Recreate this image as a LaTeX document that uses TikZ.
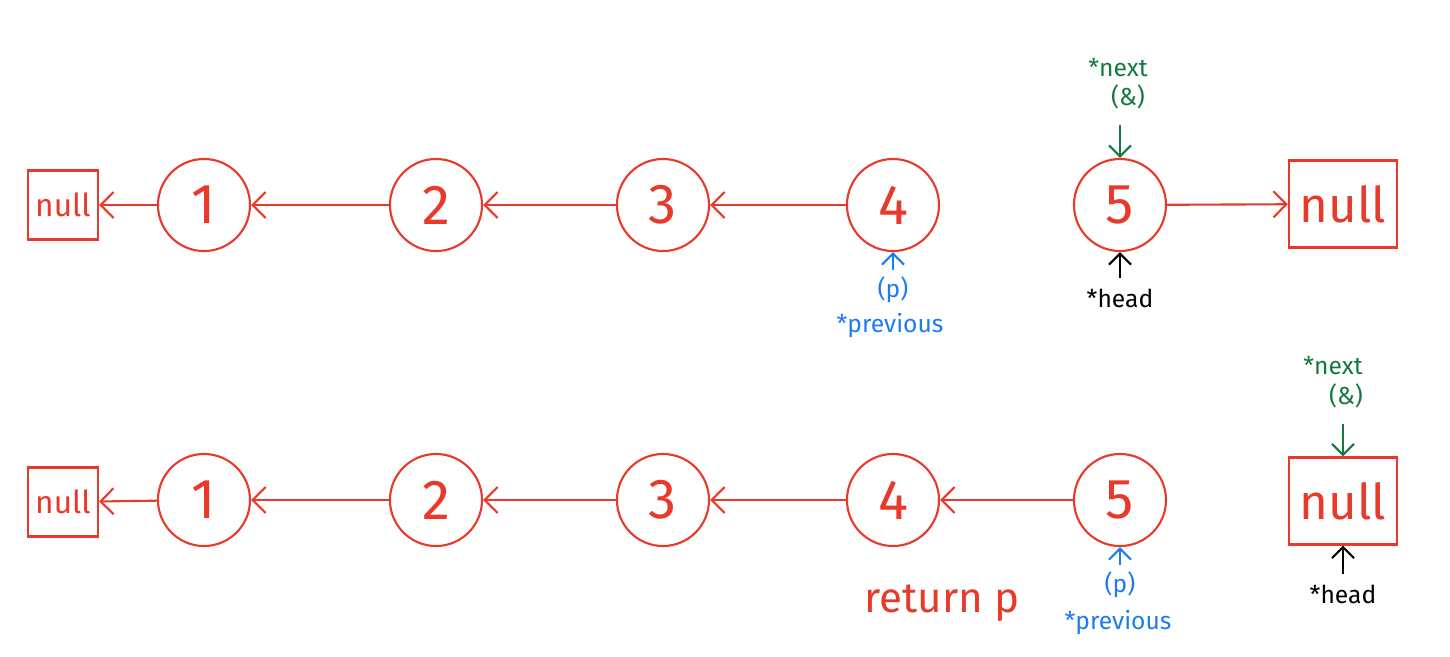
\documentclass[tikz,border=0pt]{standalone}
\usepackage{fontspec}
\setmainfont{Fira Sans}
\usetikzlibrary{arrows.meta}
\definecolor{listred}{HTML}{E8392A}
\definecolor{nextgreen}{HTML}{137A3F}
\definecolor{prevblue}{HTML}{1C7BF2}
\begin{document}
\begin{tikzpicture}[x=0.01cm,y=-0.01cm,
    elem/.style={draw=listred,circle,line width=0.6pt,minimum size=0.92cm,inner sep=0pt,
      text=listred,font=\fontsize{16}{16}\selectfont},
    nullbox/.style={draw=listred,line width=0.6pt,minimum width=0.7cm,minimum height=0.69cm,
      inner sep=0pt,text=listred,font=\fontsize{9}{9}\selectfont},
    bignull/.style={draw=listred,line width=0.6pt,minimum width=1.08cm,minimum height=0.87cm,
      inner sep=0pt,text=listred,font=\fontsize{14}{14}\selectfont},
    link/.style={draw=listred,line width=0.6pt,-{Straight Barb[length=1.3mm,width=2.6mm]}},
    ptr/.style={line width=0.6pt,-{Straight Barb[length=1.1mm,width=2.2mm]}},
    lbl/.style={inner sep=0pt,font=\fontsize{7}{7}\selectfont}]
  \useasboundingbox (0,0) rectangle (1450,657);
  \def \Elems{
    1/204,
    2/436,
    3/663,
    4/893,
    5/1120}
  % two rows of list elements
  \foreach \id / \x in \Elems{
    \node[elem] (a\id) at (\x, 205) {\id};
    \node[elem] (b\id) at (\x, 500) {\id};
  }
  \node[nullbox] (anull) at (63, 205) {null};
  \node[nullbox] (bnull) at (63, 502) {null};
  \node[bignull] (aend) at (1343, 204) {null};
  \node[bignull] (bend) at (1343, 501) {null};
  % reversed links
  \foreach \x / \y in {2/1, 3/2, 4/3}{
    \path[link] (a\x) -- (a\y);
    \path[link] (b\x) -- (b\y);
  }
  \path[link] (b5) -- (b4);
  \path[link] (a1) -- (anull);
  \path[link] (b1) -- (bnull);
  \path[link] (a5) -- (aend);
  % pointers, first row
  \node[lbl,text=nextgreen] (anext) at (1118, 68) {*next};
  \node[lbl,text=nextgreen] (aamp) at (1128, 97) {(\&)};
  \coordinate (anexttail) at (1120, 125);
  \draw[ptr,nextgreen] (anexttail) -- (a5.north);
  \node[lbl,text=prevblue] (ap) at (893, 290) {(p)};
  \node[lbl,text=prevblue] (aprev) at (890, 326) {*previous};
  \draw[ptr,prevblue] (ap.north) ++(0,-6) -- (a4.south);
  \node[lbl] (ahead) at (1120, 298) {*head};
  \draw[ptr] (ahead.north) ++(0,-10) -- (a5.south);
  % pointers, second row
  \node[lbl,text=nextgreen] (bnext) at (1333, 366) {*next};
  \node[lbl,text=nextgreen] (bamp) at (1346, 396) {(\&)};
  \coordinate (bnexttail) at (1343, 424);
  \draw[ptr,nextgreen] (bnexttail) -- (bend.north);
  \node[lbl] (bhead) at (1343, 594) {*head};
  \draw[ptr] (bhead.north) ++(0,-10) -- (bend.south);
  \node[lbl,text=prevblue] (bp) at (1120, 585) {(p)};
  \node[lbl,text=prevblue] (bprev) at (1118, 623) {*previous};
  \draw[ptr,prevblue] (bp.north) ++(0,-6) -- (b5.south);
  \node[text=listred,inner sep=0pt,font=\fontsize{12}{12}\selectfont] (ret) at (942, 603) {return p};
\end{tikzpicture}
\end{document}
